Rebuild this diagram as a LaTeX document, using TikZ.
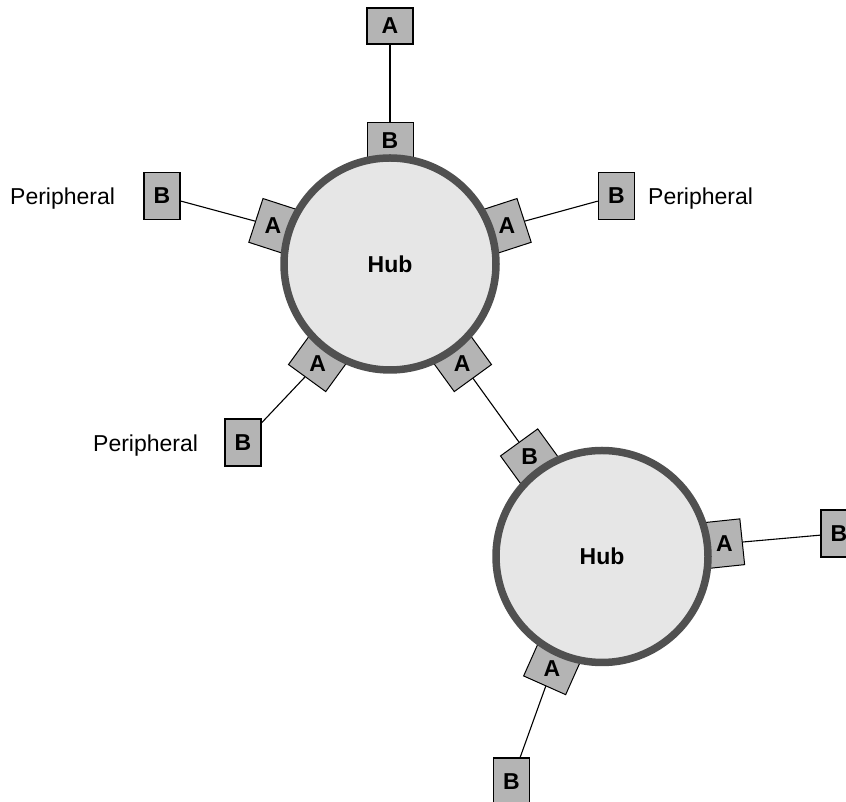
\documentclass[tikz,border=0pt]{standalone}
\usepackage{fontspec}
\setmainfont{Liberation Sans}
\usetikzlibrary{calc}
\definecolor{boxgray}{HTML}{B4B4B4}
\definecolor{hubfill}{HTML}{E6E6E6}
\definecolor{ringgray}{HTML}{505050}
\tikzset{
  plain/.style={font=\fontsize{23}{27}\selectfont, inner sep=0pt},
  lbl/.style={font=\fontsize{23}{27}\selectfont\bfseries, inner sep=0pt},
  periph/.style={draw=black, line width=1.5pt, fill=boxgray, minimum width=36pt,
    minimum height=47pt, inner sep=0pt, font=\fontsize{23}{27}\selectfont\bfseries},
  periphwide/.style={periph, minimum width=46pt, minimum height=36pt},
  portbox/.style={draw=black, line width=1pt, fill=boxgray, minimum width=46pt,
    minimum height=36pt, inner sep=0pt},
  hubnode/.style={circle, draw=ringgray, line width=7.5pt, fill=hubfill,
    minimum size=212pt, inner sep=0pt, font=\fontsize{23}{27}\selectfont\bfseries},
  link/.style={line width=1.1pt, black},
}
\begin{document}
\begin{tikzpicture}[x=1pt,y=1pt]
\useasboundingbox (0,0) rectangle (846,802);
\clip (0,0) rectangle (846,802);
\coordinate (c1) at (390,538);
\coordinate (c2) at (602,245.5);

% peripheral boxes
\node[periphwide] (pTop) at (390,776) {A};
\node[periph] (pLeft) at (162,606) {B};
\node[periph] (pRight) at (616.5,606) {B};
\node[periph] (pLow) at (243,359.5) {B};
\node[periph] (pFar) at (839,268.5) {B};
\node[periph] (pBot) at (511.5,20.5) {B};

% peripheral texts
\node[plain, anchor=base west] (t1) at (10,597) {Peripheral};
\node[plain, anchor=base west] (t2) at (648,597) {Peripheral};
\node[plain, anchor=base west] (t3) at (93,350.5) {Peripheral};

% port boxes
\foreach \a in {90,18,162,234,306} {
  \node[portbox, rotate=\a-90] (h1p\a) at ($(c1)+(\a:123)$) {};
}
\foreach \a in {126,6,246} {
  \node[portbox, rotate=\a-90] (h2p\a) at ($(c2)+(\a:123)$) {};
}

% connectors
\draw[link] (h1p90) -- (pTop);
\draw[link] (h1p18) -- (pRight);
\draw[link] (h1p162) -- (pLeft);
\draw[link] (h1p234) -- (pLow);
\draw[link] (h1p306) -- (h2p126);
\draw[link] (h2p6) -- (pFar);
\draw[link] (h2p246) -- (pBot);

% hubs
\node[hubnode] (hub1) at (c1) {Hub};
\node[hubnode] (hub2) at (c2) {Hub};

% port labels
\node[lbl] (l1) at (h1p90) {B};
\node[lbl] (l2) at (h1p18) {A};
\node[lbl] (l3) at (h1p162) {A};
\node[lbl] (l4) at (h1p234) {A};
\node[lbl] (l5) at (h1p306) {A};
\node[lbl] (l6) at (h2p126) {B};
\node[lbl] (l7) at (h2p6) {A};
\node[lbl] (l8) at (h2p246) {A};
\end{tikzpicture}
\end{document}
